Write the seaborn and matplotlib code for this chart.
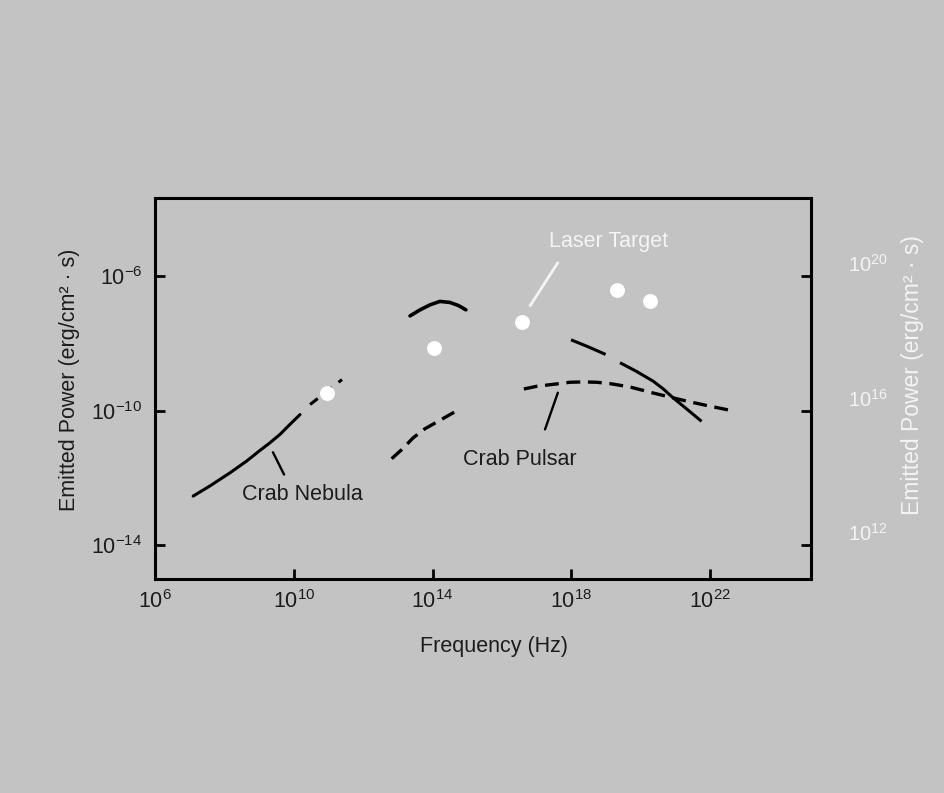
import numpy as np
import pandas as pd
import matplotlib
matplotlib.use("Agg")
import matplotlib.pyplot as plt
import seaborn as sns

# Spectra as log10(frequency / Hz) and log10(power / erg cm^-2 s^-1)
nebula_radio_logf = [7.10, 7.58, 8.16, 8.64, 9.03, 9.31, 9.60, 9.89, 10.18]
nebula_radio_logp = [-12.54, -12.24, -11.85, -11.50, -11.18, -10.96, -10.71, -10.41, -10.12]
nebula_mm_logf = [10.47, 11.39]
nebula_mm_logp = [-9.82, -9.08]
nebula_optical_logf = [13.35, 13.64, 13.93, 14.21, 14.50, 14.74, 14.96]
nebula_optical_logp = [-7.19, -7.01, -6.86, -6.76, -6.79, -6.88, -7.01]
nebula_xray_logf = [17.99, 18.49, 19.00, 19.42, 19.88, 20.36, 20.65, 20.94, 21.32, 21.75]
nebula_xray_logp = [-7.90, -8.11, -8.34, -8.59, -8.84, -9.13, -9.36, -9.63, -9.95, -10.32]
pulsar_optical_logf = [12.82, 13.11, 13.44, 13.78, 14.16, 14.50, 14.81]
pulsar_optical_logp = [-11.43, -11.16, -10.81, -10.54, -10.32, -10.12, -9.94]
pulsar_xray_logf = [16.63, 17.00, 17.57, 17.96, 18.34, 18.73, 19.11, 19.69, 20.36,
                    20.84, 21.32, 21.99, 22.71]
pulsar_xray_logp = [-9.36, -9.28, -9.21, -9.16, -9.15, -9.16, -9.20, -9.30, -9.48,
                    -9.60, -9.72, -9.87, -10.02]
laser_logf = [10.96, 14.04, 16.58, 19.31, 20.26]
laser_logp = [-9.47, -8.13, -7.36, -6.41, -6.74]

x_ticks = [1e6, 1e10, 1e14, 1e18, 1e22]
x_tick_labels = [r"$10^{6}$", r"$10^{10}$", r"$10^{14}$", r"$10^{18}$", r"$10^{22}$"]
y_ticks = [1e-14, 1e-10, 1e-6]
y_tick_labels = [r"$10^{-14}$", r"$10^{-10}$", r"$10^{-6}$"]
right_ticks = [1e12, 1e16, 1e20]
right_tick_labels = [r"$10^{12}$", r"$10^{16}$", r"$10^{20}$"]
right_scale = 1e26

BG = "#c3c3c3"
INK = "#1c1c1c"
LIGHT = "#f4f4f4"

sns.set_theme(style="ticks", rc={
    "figure.facecolor": BG,
    "axes.facecolor": BG,
    "savefig.facecolor": BG,
    "axes.edgecolor": "black",
    "axes.linewidth": 2.2,
    "lines.scale_dashes": False,
    "lines.solid_joinstyle": "round",
    "lines.dash_joinstyle": "round",
    "mathtext.fontset": "custom",
    "mathtext.rm": "Liberation Sans",
    "mathtext.it": "Liberation Sans:italic",
    "mathtext.bf": "Liberation Sans:bold",
})
plt.rcParams["font.family"] = ["Liberation Sans", "DejaVu Sans"]
FS = 15.5

fig = plt.figure(figsize=(9.45, 7.93), dpi=100)
ax = fig.add_axes([0.164, 0.2699, 0.694, 0.4804])
ax.set_xscale("log")
ax.set_yscale("log")


def curve(logf, logp, **kw):
    df = pd.DataFrame({"f": np.power(10.0, logf), "p": np.power(10.0, logp)})
    sns.lineplot(data=df, x="f", y="p", ax=ax, estimator=None, sort=False,
                 color="black", **kw)


curve(nebula_radio_logf, nebula_radio_logp, lw=2.2)
curve(nebula_mm_logf, nebula_mm_logp, lw=2.2, linestyle=(0, (7, 6)))
curve(nebula_optical_logf, nebula_optical_logp, lw=2.6)
curve(nebula_xray_logf, nebula_xray_logp, lw=2.2, linestyle=(0, (27, 12, 110, 12)))
curve(pulsar_optical_logf, pulsar_optical_logp, lw=2.4, linestyle=(0, (10, 5.5)))
curve(pulsar_xray_logf, pulsar_xray_logp, lw=2.4, linestyle=(0, (10, 5.5)))

laser = pd.DataFrame({"f": np.power(10.0, laser_logf), "p": np.power(10.0, laser_logp)})
sns.scatterplot(data=laser, x="f", y="p", ax=ax, s=115, color="white",
                linewidth=0, zorder=4)

# Labels with leader lines
ax.text(10**10.24, 10**-12.49, "Crab Nebula", ha="center", va="center",
        fontsize=FS, color=INK)
ax.annotate("", xy=(10**9.40, 10**-11.24), xytext=(10**9.72, 10**-11.90),
            arrowprops=dict(arrowstyle="-", color="black", lw=1.7,
                            shrinkA=0, shrinkB=0))
ax.text(10**16.52, 10**-11.45, "Crab Pulsar", ha="center", va="center",
        fontsize=FS, color=INK)
ax.annotate("", xy=(10**17.61, 10**-9.47), xytext=(10**17.24, 10**-10.56),
            arrowprops=dict(arrowstyle="-", color="black", lw=1.7,
                            shrinkA=0, shrinkB=0))
ax.text(10**19.08, 10**-4.99, "Laser Target", ha="center", va="center",
        fontsize=FS, color=LIGHT)
ax.annotate("", xy=(10**16.81, 10**-6.89), xytext=(10**17.61, 10**-5.61),
            arrowprops=dict(arrowstyle="-", color=LIGHT, lw=2.0,
                            shrinkA=0, shrinkB=0))

ax.set_xlim(1e6, 10**24.9)
ax.set_ylim(1e-15, 10**-3.69)
ax.set_xticks(x_ticks)
ax.set_xticklabels(x_tick_labels)
ax.set_yticks(y_ticks)
ax.set_yticklabels(y_tick_labels)
ax.minorticks_off()
ax.tick_params(axis="both", direction="in", length=7, width=2.0,
               colors="black", labelcolor=INK, labelsize=FS)
ax.tick_params(axis="x", pad=8)
ax.tick_params(axis="y", pad=9, right=True, labelright=False)
for s in ax.spines.values():
    s.set_visible(True)
    s.set_linewidth(2.2)

ax.set_xlabel("Frequency (Hz)", fontsize=FS, color=INK, va="center")
ax.xaxis.set_label_coords(0.517, -0.177)
ax.set_ylabel("Emitted Power (erg/cm² · s)", fontsize=FS, color=INK, va="center")
ax.yaxis.set_label_coords(-0.130, 0.522)

# Second power scale on the right
sec = ax.secondary_yaxis("right", functions=(lambda y: y * right_scale,
                                             lambda y: y / right_scale))
sec.set_yticks(right_ticks)
sec.set_yticklabels(right_tick_labels)
sec.minorticks_off()
sec.tick_params(axis="y", length=0, pad=27, labelcolor=LIGHT, labelsize=FS - 1)
for lbl in sec.get_yticklabels():
    lbl.set_verticalalignment("bottom")
sec.spines["right"].set_visible(False)
ax.text(1.155, 0.535, "Emitted Power (erg/cm² · s)", transform=ax.transAxes,
        rotation=90, ha="center", va="center", fontsize=FS + 1, color=LIGHT)

fig.savefig("out.png", dpi=100)
